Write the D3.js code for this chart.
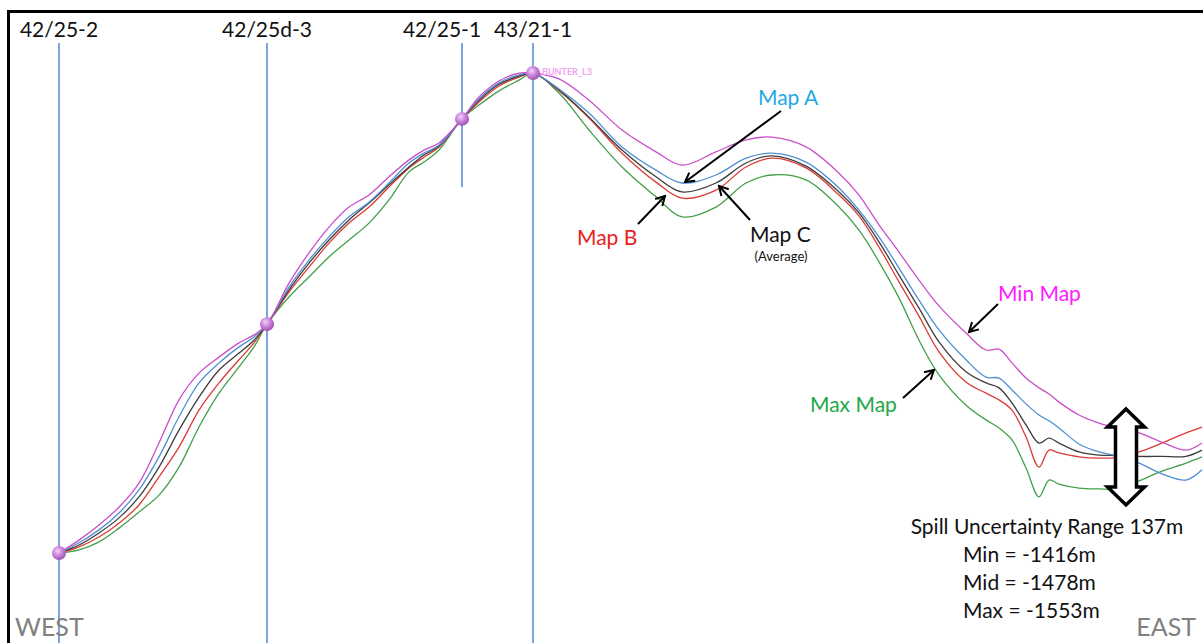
<!DOCTYPE html>
<html>
<head>
<meta charset="utf-8">
<script src="https://cdn.jsdelivr.net/npm/d3@7"></script>
<style>
  html, body { margin: 0; padding: 0; background: #ffffff; }
  svg { display: block; font-family: Lato, "Open Sans", sans-serif; }
</style>
</head>
<body>
<svg id="chart" width="1203" height="643"></svg>
<script>
// Distance along the West-East section (km)
const distanceKm = [0, 0.2, 0.4, 0.6, 0.8, 1.0, 1.2, 1.4, 1.6, 1.8, 1.95, 2.08, 2.3, 2.5, 2.7, 2.9, 3.1, 3.3, 3.5, 3.65, 3.8, 4.03, 4.2, 4.4, 4.6, 4.74, 5.0, 5.3, 5.63, 5.97, 6.23, 6.57, 6.87, 7.13, 7.47, 7.8, 8.0, 8.2, 8.4, 8.6, 8.8, 9.07, 9.27, 9.4, 9.53, 9.67, 9.8, 9.9, 10.0, 10.2, 10.4, 10.58, 10.8, 11.03, 11.27, 11.43];

// Top-reservoir depth (m) for each depth-conversion map
const minMap = [-1697, -1668, -1634, -1594, -1540, -1450, -1353, -1293, -1257, -1225, -1207, -1183, -1091, -1023, -965, -920, -893, -852, -814, -792, -776, -722, -673, -637, -619, -619, -632, -680, -747, -796, -826, -796, -769, -763, -785, -844, -893, -960, -1021, -1084, -1142, -1203, -1241, -1239, -1270, -1304, -1326, -1340, -1358, -1387, -1405, -1416, -1427, -1448, -1466, -1450];
const mapA = [-1697, -1674, -1645, -1607, -1555, -1481, -1391, -1315, -1270, -1234, -1212, -1183, -1100, -1039, -987, -942, -909, -866, -821, -799, -781, -722, -677, -641, -623, -619, -655, -709, -785, -837, -866, -848, -810, -799, -819, -877, -927, -987, -1057, -1129, -1196, -1263, -1302, -1304, -1331, -1362, -1387, -1400, -1416, -1452, -1470, -1479, -1495, -1519, -1533, -1510];
const mapC = [-1697, -1679, -1652, -1618, -1571, -1504, -1421, -1347, -1286, -1248, -1219, -1183, -1106, -1046, -994, -949, -911, -870, -830, -803, -783, -722, -680, -644, -626, -619, -657, -718, -792, -852, -886, -866, -821, -805, -828, -886, -933, -998, -1073, -1147, -1223, -1290, -1315, -1326, -1360, -1409, -1450, -1439, -1450, -1470, -1477, -1478, -1480, -1480, -1480, -1466];
const mapB = [-1697, -1683, -1661, -1630, -1589, -1526, -1459, -1376, -1315, -1263, -1225, -1183, -1111, -1055, -1001, -956, -920, -875, -832, -808, -785, -722, -684, -648, -628, -619, -659, -720, -799, -864, -900, -882, -830, -810, -832, -893, -940, -1010, -1088, -1165, -1245, -1313, -1338, -1353, -1376, -1436, -1504, -1466, -1472, -1481, -1484, -1482, -1470, -1450, -1427, -1414];
const maxMap = [-1697, -1690, -1672, -1641, -1605, -1567, -1504, -1414, -1338, -1279, -1234, -1183, -1122, -1077, -1032, -994, -956, -904, -841, -819, -792, -722, -691, -659, -635, -619, -664, -747, -830, -897, -942, -920, -866, -848, -859, -920, -972, -1043, -1124, -1219, -1297, -1365, -1398, -1416, -1443, -1506, -1571, -1533, -1542, -1551, -1553, -1553, -1535, -1513, -1495, -1481];

// Wells and their tie points on the horizon
const wellNames = ["42/25-2", "42/25d-3", "42/25-1", "43/21-1"];
const wellDistanceKm = [0, 2.08, 4.03, 4.74];
const wellTieDepth = [-1697, -1183, -722, -619];

// Spill point
const spillDistanceKm = 10.67;
const spillNames = ["Min", "Mid", "Max"];
const spillDepth = [-1416, -1478, -1553];

const W = 1203, H = 643;
const svg = d3.select("#chart");

const x = d3.scaleLinear().domain([0, 11.43]).range([59, 1202]);
const y = d3.scaleLinear().domain([-455, -1899]).range([0, H]);

// Well columns
const wellTop = 43;
const wellBottom = [H, H, 187, H];
const wellLabelX = [0, 0, -20, 0];
svg.append("g").selectAll("line")
  .data(wellDistanceKm)
  .join("line")
  .attr("x1", d => x(d)).attr("x2", d => x(d))
  .attr("y1", wellTop).attr("y2", (d, i) => wellBottom[i])
  .attr("stroke", "#5b8fd6").attr("stroke-width", 1.6);

svg.append("g").selectAll("text")
  .data(wellNames)
  .join("text")
  .attr("x", (d, i) => x(wellDistanceKm[i]) + wellLabelX[i])
  .attr("y", 37)
  .attr("text-anchor", "middle")
  .attr("font-size", 21)
  .attr("fill", "#111")
  .text(d => d);

// Horizon depth profiles
const series = [
  { name: "Max Map", values: maxMap, color: "#43a049" },
  { name: "Map B", values: mapB, color: "#dc3b35" },
  { name: "Map C", values: mapC, color: "#3d3d3d" },
  { name: "Map A", values: mapA, color: "#4f8fd2" },
  { name: "Min Map", values: minMap, color: "#c94fc9" }
];
const line = d3.line()
  .x((d, i) => x(distanceKm[i]))
  .y(d => y(d))
  .curve(d3.curveCatmullRom.alpha(0.5));

svg.append("g").selectAll("path")
  .data(series)
  .join("path")
  .attr("d", d => line(d.values))
  .attr("fill", "none")
  .attr("stroke", d => d.color)
  .attr("stroke-width", 1.3);

// Tie-point spheres
const defs = svg.append("defs");
const grad = defs.append("radialGradient").attr("id", "ball")
  .attr("cx", "40%").attr("cy", "35%").attr("r", "65%");
grad.append("stop").attr("offset", "0%").attr("stop-color", "#f3d2f8");
grad.append("stop").attr("offset", "55%").attr("stop-color", "#c97fd9");
grad.append("stop").attr("offset", "100%").attr("stop-color", "#9c55b0");

svg.append("g").selectAll("circle")
  .data(wellDistanceKm)
  .join("circle")
  .attr("cx", d => x(d))
  .attr("cy", (d, i) => y(wellTieDepth[i]))
  .attr("r", 7)
  .attr("fill", "url(#ball)");

svg.append("text")
  .attr("x", x(wellDistanceKm[3]) + 9)
  .attr("y", y(wellTieDepth[3]) + 2)
  .attr("font-size", 9)
  .attr("font-weight", "bold")
  .attr("fill", "#f2a2f2")
  .text("BUNTER_L3");

// Frame
svg.append("path")
  .attr("d", `M8.5,${H} V11.5 H${W}`)
  .attr("fill", "none")
  .attr("stroke", "#000")
  .attr("stroke-width", 3);

// Pointer arrows
defs.append("marker").attr("id", "head")
  .attr("viewBox", "0 0 12 12").attr("refX", 10).attr("refY", 6)
  .attr("markerWidth", 12).attr("markerHeight", 12)
  .attr("markerUnits", "userSpaceOnUse").attr("orient", "auto")
  .append("path").attr("d", "M1,1 L10,6 L1,11")
  .attr("fill", "none").attr("stroke", "#000").attr("stroke-width", 2);

const labels = [
  { text: "Map A", color: "#1fa8e6", tx: 758, ty: 105, from: [781, 111], to: [685, 182] },
  { text: "Map B", color: "#e8211c", tx: 577, ty: 245, from: [638, 224], to: [665, 196] },
  { text: "Map C", color: "#111111", tx: 750, ty: 242, from: [750, 220], to: [719, 186] },
  { text: "Min Map", color: "#ff1aff", tx: 998, ty: 301, from: [998, 304], to: [969, 332] },
  { text: "Max Map", color: "#21a845", tx: 810, ty: 412, from: [903, 398], to: [934, 370] }
];
const ann = svg.append("g");
ann.selectAll("line")
  .data(labels)
  .join("line")
  .attr("x1", d => d.from[0]).attr("y1", d => d.from[1])
  .attr("x2", d => d.to[0]).attr("y2", d => d.to[1])
  .attr("stroke", "#000").attr("stroke-width", 2)
  .attr("marker-end", "url(#head)");
ann.selectAll("text")
  .data(labels)
  .join("text")
  .attr("x", d => d.tx).attr("y", d => d.ty)
  .attr("font-size", 21)
  .attr("fill", d => d.color)
  .text(d => d.text);
ann.append("text")
  .attr("x", 781).attr("y", 261)
  .attr("text-anchor", "middle")
  .attr("font-size", 13)
  .attr("fill", "#111")
  .text("(Average)");

// Spill uncertainty double arrow spanning the min and max depths
const cx = x(spillDistanceKm);
const yTip = y(spillDepth[0]) - 19;
const yBot = y(spillDepth[2]) + 16;
const headW = 18.5, shaftW = 10.5, headL = 18;
const dbl = [
  [cx, yTip], [cx + headW, yTip + headL], [cx + shaftW, yTip + headL],
  [cx + shaftW, yBot - headL], [cx + headW, yBot - headL], [cx, yBot],
  [cx - headW, yBot - headL], [cx - shaftW, yBot - headL],
  [cx - shaftW, yTip + headL], [cx - headW, yTip + headL]
];
svg.append("path")
  .attr("d", "M" + dbl.map(p => p.join(",")).join("L") + "Z")
  .attr("fill", "#fff")
  .attr("stroke", "#000")
  .attr("stroke-width", 3.5)
  .attr("stroke-linejoin", "miter");

// Spill text block
const range = Math.round(spillDepth[0] - spillDepth[2]);
svg.append("text")
  .attr("x", 1047).attr("y", 534)
  .attr("text-anchor", "middle")
  .attr("font-size", 21)
  .attr("fill", "#111")
  .text(`Spill Uncertainty Range ${range}m`);
svg.append("g").selectAll("text")
  .data(spillNames)
  .join("text")
  .attr("x", 963)
  .attr("y", (d, i) => 562 + i * 28)
  .attr("font-size", 21)
  .attr("fill", "#111")
  .text((d, i) => `${d} = ${spillDepth[i]}m`);

// Section orientation
svg.append("text").attr("x", 15).attr("y", 636)
  .attr("font-size", 25).attr("fill", "#808080").text("WEST");
svg.append("text").attr("x", 1196).attr("y", 636)
  .attr("text-anchor", "end")
  .attr("font-size", 25).attr("fill", "#808080").text("EAST");
</script>
</body>
</html>
